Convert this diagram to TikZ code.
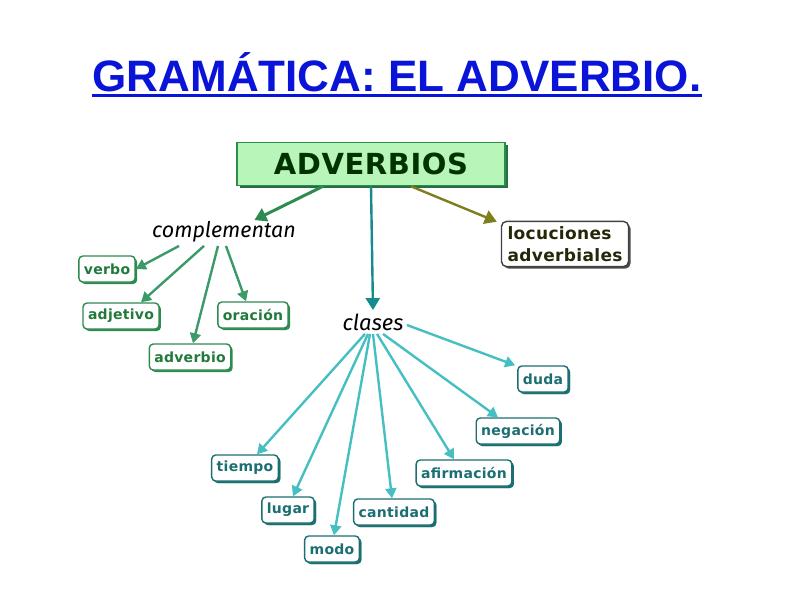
\documentclass[tikz,border=0pt]{standalone}
\usepackage{fontspec}
\usetikzlibrary{arrows.meta,shadows}
\setmainfont{Fira Sans}
\newfontfamily\titlefont{Liberation Sans}
\newfontfamily\boxfont[LetterSpace=2]{DejaVu Sans}
\definecolor{titleblue}{HTML}{0A14D8}
\definecolor{boxgreen}{HTML}{2E8B50}
\definecolor{txtgreen}{HTML}{1F7A3C}
\definecolor{arrgreen}{HTML}{3A9A68}
\definecolor{teal}{HTML}{1B6E72}
\definecolor{arrteal}{HTML}{45BFC2}
\definecolor{olive}{HTML}{7E7E1E}
\definecolor{lightgreen}{HTML}{B8F5B8}
\tikzset{
  gbox/.style={draw=boxgreen,line width=1.4pt,rounded corners=4pt,fill=white,
    text=txtgreen,font=\boxfont\bfseries\fontsize{14}{14}\selectfont,inner xsep=5pt,
    minimum height=26pt,
    drop shadow={shadow xshift=2pt,shadow yshift=-2pt,fill=boxgreen,opacity=1}},
  tbox/.style={gbox,draw=teal,text=teal,
    drop shadow={shadow xshift=2pt,shadow yshift=-2pt,fill=teal,opacity=1}},
  garr/.style={arrgreen,line width=2.4pt,-{Triangle[length=10pt,width=11pt]}},
  tarr/.style={arrteal,line width=2.4pt,-{Triangle[length=10pt,width=11pt]}},
}
\begin{document}
\begin{tikzpicture}[x=1pt,y=-1pt]
  \useasboundingbox (0,0) rectangle (794,595);
  \node[inner sep=0pt,text=titleblue,font=\titlefont\bfseries\fontsize{44}{44}\selectfont]
    (title) at (397,72) {GRAMÁTICA: EL ADVERBIO.};
  \draw[titleblue,line width=2.6pt] ([yshift=-4pt]title.base west) -- ([yshift=-4pt]title.base east);
  % top
  \node[draw=boxgreen,line width=1.6pt,fill=lightgreen,minimum width=268pt,minimum height=43pt,
    font=\boxfont\bfseries\fontsize{29}{29}\selectfont,text=black!80!green,
    drop shadow={shadow xshift=2.5pt,shadow yshift=-2.5pt,fill=boxgreen!80!black,opacity=1}]
    (adv) at (371,164) {ADVERBIOS};
  \node[font=\itshape\fontsize{21.5}{21}\selectfont] (comp) at (224,232) {complementan};
  \node[font=\itshape\fontsize{22}{22}\selectfont] (cla) at (373,322) {clases};
  \node[draw=black!75,line width=1.4pt,rounded corners=5pt,fill=white,text=black!70!olive,
    font=\boxfont\bfseries\fontsize{17}{22}\selectfont,align=left,inner xsep=6pt,inner ysep=5pt,
    drop shadow={shadow xshift=2pt,shadow yshift=-2pt,fill=black!70,opacity=1}]
    (loc) at (565,244) {locuciones\\adverbiales};
  % complementan
  \node[gbox] (verbo) at (107,269) {verbo};
  \node[gbox] (adj) at (121,316) {adjetivo};
  \node[gbox] (ora) at (253,315) {oración};
  \node[gbox] (advb) at (190,357) {adverbio};
  % clases
  \node[tbox] (duda) at (543,379) {duda};
  \node[tbox] (neg) at (518,431) {negación};
  \node[tbox] (afi) at (464,473) {afirmación};
  \node[tbox] (can) at (394,512) {cantidad};
  \node[tbox] (modo) at (332,549) {modo};
  \node[tbox] (lug) at (288,510) {lugar};
  \node[tbox] (tie) at (245,468) {tiempo};
  % arrows
  \draw[boxgreen,line width=3pt,-{Triangle[length=12pt,width=14pt]}] ([xshift=-48pt]adv.south) -- ([xshift=-45pt,yshift=-2pt]comp.north east);
  \draw[teal!80!cyan,line width=2.4pt,-{Triangle[length=12pt,width=14pt]}] (adv.south) -- (cla.north);
  \draw[olive,line width=2.4pt,-{Triangle[length=12pt,width=14pt]}] ([xshift=40pt]adv.south) -- ([xshift=-4pt,yshift=-1pt]loc.north west);
  \draw[garr] ([xshift=-45pt]comp.south) -- (verbo.east);
  \draw[garr] ([xshift=-20pt]comp.south) -- ([xshift=20pt]adj.north);
  \draw[garr] ([xshift=-6pt]comp.south) -- ([xshift=3pt]advb.north);
  \draw[garr] ([xshift=2pt]comp.south) -- ([xshift=-7pt]ora.north);
  \draw[tarr] ([xshift=-8pt]cla.south) -- ([xshift=12pt]tie.north);
  \draw[tarr] ([xshift=-5pt]cla.south) -- ([xshift=5pt]lug.north);
  \draw[tarr] ([xshift=-3pt]cla.south) -- ([xshift=2pt]modo.north);
  \draw[tarr] (cla.south) -- ([xshift=-2pt]can.north);
  \draw[tarr] ([xshift=4pt]cla.south) -- ([xshift=-10pt]afi.north);
  \draw[tarr] ([xshift=10pt]cla.south) -- ([xshift=-20pt]neg.north);
  \draw[tarr] ([yshift=-3pt]cla.east) -- ([xshift=-2pt]duda.north west);
\end{tikzpicture}
\end{document}
